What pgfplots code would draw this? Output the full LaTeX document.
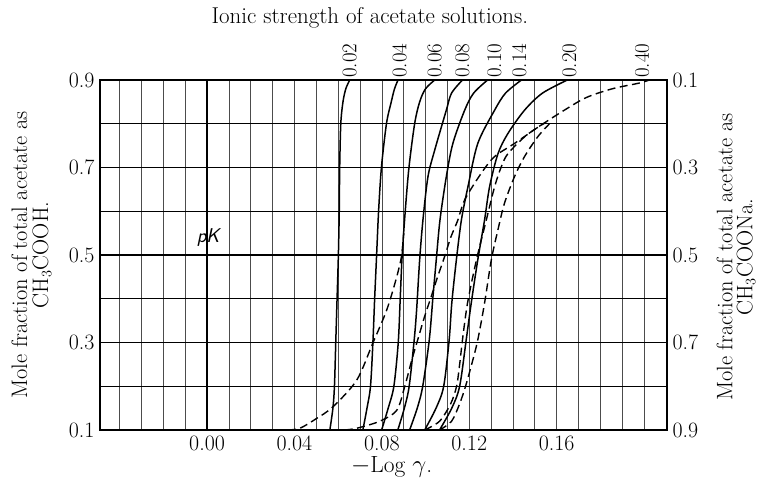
\documentclass[border=0pt]{standalone}
\usepackage{pgfplots}
\pgfplotsset{compat=1.18}
\begin{document}
\begin{tikzpicture}
\useasboundingbox (-100bp,-52bp) rectangle (659bp,430bp);
\begin{axis}[
 at={(0,0)}, anchor=south west,
 scale only axis, width=567bp, height=350bp,
 xmin=-0.049, xmax=0.2105, ymin=0.1, ymax=0.9,
 axis line style={line width=1.8bp},
 xtick={0,0.04,0.08,0.12,0.16},
 xticklabels={0.00,0.04,0.08,0.12,0.16},
 minor xtick={-0.04,-0.03,-0.02,-0.01,0.01,0.02,0.03,0.05,0.06,0.07,0.09,0.10,0.11,0.13,0.14,0.15,0.17,0.18,0.19,0.20},
 ytick={0.1,0.3,0.5,0.7,0.9},
 yticklabels={0.1,0.3,0.5,0.7,0.9},
 minor ytick={0.2,0.4,0.6,0.8},
 grid=both,
 major x grid style={black!70,line width=0.7bp},
 minor x grid style={black!70,line width=0.7bp},
 major y grid style={black,line width=1.4bp},
 minor y grid style={black,line width=1.4bp},
 major tick length=0pt, minor tick length=0pt,
 /pgf/number format/assume math mode=true,
 tick label style={font=\fontsize{22}{22}\selectfont},
 xticklabel style={yshift=-2bp},
 yticklabel style={xshift=-2bp},
 clip mode=individual,
]
\draw[line width=1.8bp] (axis cs:0,0.1) -- (axis cs:0,0.9);
% solid curves: ionic strength 0.02, 0.04, 0.06, 0.08, 0.10, 0.14, 0.20
\addplot[black, line width=1.5bp, smooth] coordinates {(0.0562,0.1)(0.0576,0.15)(0.0583,0.2)(0.0589,0.3)(0.0595,0.4)(0.0601,0.5)(0.0605,0.6)(0.0607,0.7)(0.0612,0.8)(0.0622,0.85)(0.0635,0.88)(0.0653,0.9)};
\addplot[black, line width=1.5bp, smooth] coordinates {(0.0713,0.1)(0.0732,0.15)(0.0748,0.2)(0.0759,0.3)(0.0767,0.4)(0.0776,0.5)(0.0785,0.6)(0.0798,0.7)(0.0821,0.8)(0.0843,0.85)(0.0858,0.88)(0.0874,0.9)};
\addplot[black, line width=1.5bp, smooth] coordinates {(0.0799,0.1)(0.0829,0.15)(0.0855,0.2)(0.0875,0.3)(0.0884,0.4)(0.0893,0.5)(0.0907,0.6)(0.0924,0.7)(0.0950,0.8)(0.0973,0.85)(0.1000,0.88)(0.1042,0.9)};
\addplot[black, line width=1.5bp, smooth] coordinates {(0.0873,0.1)(0.0903,0.15)(0.0925,0.2)(0.0948,0.306)(0.0959,0.374)(0.0973,0.489)(0.0988,0.58)(0.1011,0.679)(0.1042,0.74)(0.1095,0.831)(0.1119,0.87)(0.1169,0.9)};
\addplot[black, line width=1.5bp, smooth] coordinates {(0.0927,0.1)(0.0962,0.15)(0.0987,0.2)(0.1017,0.306)(0.1034,0.405)(0.1049,0.489)(0.1066,0.58)(0.1095,0.679)(0.1125,0.755)(0.1179,0.831)(0.1220,0.87)(0.1284,0.9)};
\addplot[black, line width=1.5bp, smooth] coordinates {(0.0996,0.1)(0.1048,0.15)(0.1083,0.2)(0.1108,0.306)(0.1120,0.39)(0.1141,0.489)(0.1164,0.58)(0.1194,0.656)(0.1239,0.755)(0.1316,0.831)(0.1366,0.87)(0.1439,0.9)};
\addplot[black, line width=1.5bp, smooth] coordinates {(0.1064,0.1)(0.1120,0.15)(0.1156,0.2)(0.1186,0.306)(0.1209,0.39)(0.1239,0.489)(0.1270,0.58)(0.1293,0.656)(0.1331,0.731)(0.1376,0.777)(0.1453,0.831)(0.1535,0.87)(0.1649,0.9)};
% dashed curves
\addplot[black, line width=1.4bp, dash pattern=on 8bp off 4.5bp, smooth] coordinates {(0.0370,0.1)(0.0425,0.104)(0.0497,0.125)(0.0576,0.153)(0.0685,0.214)(0.0758,0.298)(0.0822,0.374)(0.0868,0.45)(0.0891,0.5)(0.0900,0.55)};
\addplot[black, line width=1.4bp, dash pattern=on 8bp off 4.5bp, smooth] coordinates {(0.0630,0.1)(0.0685,0.104)(0.0790,0.12)(0.0868,0.145)(0.0905,0.2)(0.0937,0.26)(0.0964,0.306)(0.0996,0.36)(0.1026,0.405)(0.1055,0.45)(0.1087,0.496)(0.1115,0.54)(0.1148,0.58)(0.1179,0.626)(0.1255,0.687)(0.1316,0.725)(0.1407,0.755)(0.1529,0.797)(0.1635,0.831)(0.1736,0.86)(0.1855,0.88)(0.1978,0.893)(0.2024,0.9)};
\addplot[black, line width=1.4bp, dash pattern=on 8bp off 4.5bp, smooth] coordinates {(0.0996,0.1)(0.1064,0.12)(0.1115,0.16)(0.1142,0.2)(0.1156,0.25)(0.1169,0.306)(0.1192,0.39)(0.1233,0.489)(0.1278,0.58)(0.1316,0.656)(0.1346,0.701)(0.1376,0.731)(0.1453,0.77)(0.1529,0.797)(0.1567,0.806)};
\addplot[black, line width=1.4bp, dash pattern=on 8bp off 4.5bp, smooth] coordinates {(0.1064,0.1)(0.1119,0.12)(0.1156,0.16)(0.1183,0.2)(0.1211,0.25)(0.1239,0.306)(0.1270,0.39)(0.1301,0.489)(0.1331,0.557)(0.1361,0.618)(0.1407,0.679)(0.1453,0.725)(0.1513,0.77)(0.1567,0.8)};
% labels
\node[inner sep=0pt, font=\fontsize{23}{25}\selectfont] at (axis cs:0.0745,1.0417) {Ionic strength of acetate solutions.};
\node[inner sep=0pt, font=\fontsize{23.5}{25}\selectfont] at (axis cs:0.0845,0.0154) {$-$Log $\gamma$.};
\node[inner sep=0pt, rotate=90, align=center, font=\fontsize{22.5}{21}\selectfont] at (axis cs:-0.0804,0.5) {Mole fraction of total acetate as\\CH$_3$COOH.};
\node[inner sep=0pt, rotate=90, align=center, font=\fontsize{22.5}{20}\selectfont] at (axis cs:0.2421,0.495) {Mole fraction of total acetate as\\CH$_3$COONa.};
\node[font=\fontsize{20}{20}\selectfont\sffamily\itshape, inner sep=1bp] at (axis cs:0.0005,0.541) {pK};
\node[rotate=90, anchor=west, inner sep=2bp, font=\fontsize{21}{21}\selectfont] at (axis cs:0.0653,0.9) {0.02};
\node[rotate=90, anchor=west, inner sep=2bp, font=\fontsize{21}{21}\selectfont] at (axis cs:0.0881,0.9) {0.04};
\node[rotate=90, anchor=west, inner sep=2bp, font=\fontsize{21}{21}\selectfont] at (axis cs:0.1042,0.9) {0.06};
\node[rotate=90, anchor=west, inner sep=2bp, font=\fontsize{21}{21}\selectfont] at (axis cs:0.1169,0.9) {0.08};
\node[rotate=90, anchor=west, inner sep=2bp, font=\fontsize{21}{21}\selectfont] at (axis cs:0.1315,0.9) {0.10};
\node[rotate=90, anchor=west, inner sep=2bp, font=\fontsize{21}{21}\selectfont] at (axis cs:0.1429,0.9) {0.14};
\node[rotate=90, anchor=west, inner sep=2bp, font=\fontsize{21}{21}\selectfont] at (axis cs:0.1658,0.9) {0.20};
\node[rotate=90, anchor=west, inner sep=2bp, font=\fontsize{21}{21}\selectfont] at (axis cs:0.1991,0.9) {0.40};
\end{axis}
\begin{axis}[
 at={(0,0)}, anchor=south west,
 scale only axis, width=567bp, height=350bp,
 xmin=-0.049, xmax=0.2105, ymin=0.1, ymax=0.9,
 y dir=reverse,
 hide x axis,
 axis line style={line width=1.8bp},
 ytick={0.1,0.3,0.5,0.7,0.9},
 yticklabels={0.1,0.3,0.5,0.7,0.9},
 ytick pos=right, yticklabel pos=right,
 major tick length=0pt,
 /pgf/number format/assume math mode=true,
 tick label style={font=\fontsize{22}{22}\selectfont},
 yticklabel style={xshift=2bp},
]
\addplot[draw=none] coordinates {(0,0.5)};
\end{axis}
\end{tikzpicture}
\end{document}
